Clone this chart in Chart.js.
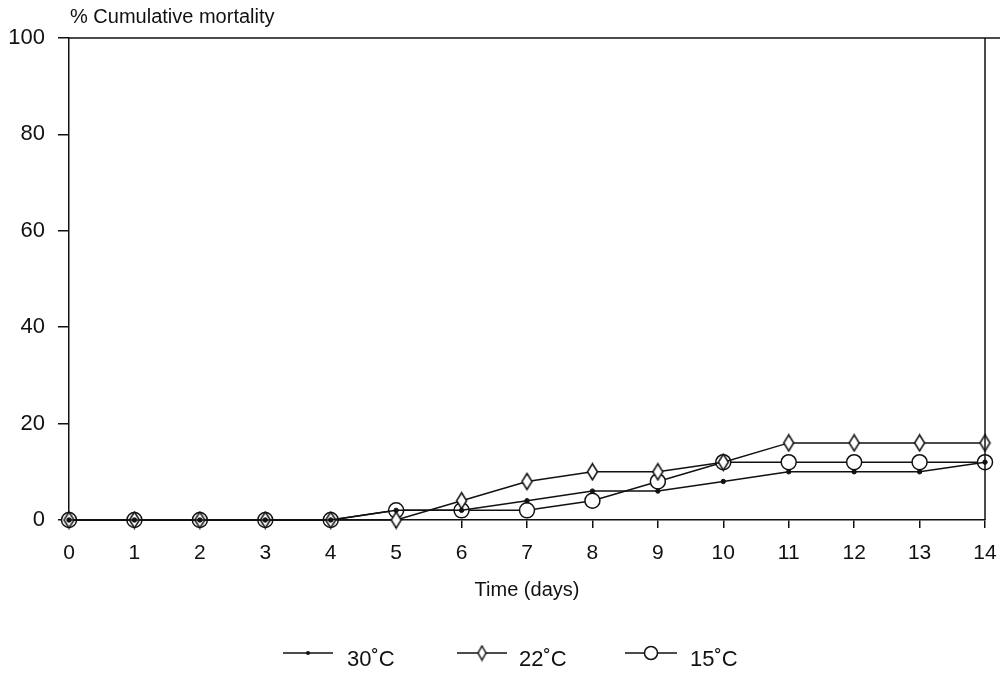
<!DOCTYPE html>
<html>
<head>
<meta charset="utf-8">
<script src="https://cdn.jsdelivr.net/npm/chart.js@4"></script>
<style>
  html, body { margin: 0; padding: 0; background: #fff; }
  #wrap { width: 1005px; height: 674px; }
</style>
</head>
<body>
<div id="wrap"><canvas id="chartCanvas" width="1005" height="674"></canvas></div>
<script>
// --- data ---
const days = [0, 1, 2, 3, 4, 5, 6, 7, 8, 9, 10, 11, 12, 13, 14];
const mort30 = [0, 0, 0, 0, 0, 2, 2, 4, 6, 6, 8, 10, 10, 10, 12];
const mort22 = [0, 0, 0, 0, 0, 0, 4, 8, 10, 10, 12, 16, 16, 16, 16];
const mort15 = [0, 0, 0, 0, 0, 2, 2, 2, 4, 8, 12, 12, 12, 12, 12];
const seriesLabels = ["30˚C", "22˚C", "15˚C"];
const yTicks = [0, 20, 40, 60, 80, 100];

const FONT = "'Liberation Sans', Arial, sans-serif";

// elongated diamond marker
function diamondCanvas(w, h) {
  const c = document.createElement("canvas");
  c.width = w + 3; c.height = h + 3;
  const g = c.getContext("2d");
  const cx = c.width / 2, cy = c.height / 2;
  g.beginPath();
  g.moveTo(cx, cy - h / 2);
  g.lineTo(cx + w / 2, cy);
  g.lineTo(cx, cy + h / 2);
  g.lineTo(cx - w / 2, cy);
  g.closePath();
  g.fillStyle = "#fff";
  g.fill();
  g.lineWidth = 1.5;
  g.strokeStyle = "#111";
  g.stroke();
  return c;
}
const diamondBig = diamondCanvas(10, 16);
const diamondSmall = diamondCanvas(8, 14);

// frame (top + right), axis caption and legend
const framePlugin = {
  id: "frame",
  afterDraw(chart) {
    const { ctx, chartArea: a } = chart;
    ctx.save();
    ctx.strokeStyle = "#111";
    ctx.lineWidth = 1.5;
    ctx.beginPath();
    ctx.moveTo(a.left, a.top);
    ctx.lineTo(1000, a.top);
    ctx.moveTo(a.right, a.top);
    ctx.lineTo(a.right, a.bottom);
    ctx.stroke();

    // y axis caption
    ctx.fillStyle = "#111";
    ctx.font = "20px " + FONT;
    ctx.textBaseline = "alphabetic";
    ctx.fillText("% Cumulative mortality", 70, 23);

    // legend
    const items = [
      { x1: 283, x2: 333, tx: 347 },
      { x1: 457, x2: 507, tx: 519 },
      { x1: 625, x2: 677, tx: 690 }
    ];
    const ly = 653;
    ctx.font = "22px " + FONT;
    items.forEach((it, i) => {
      const mx = (it.x1 + it.x2) / 2;
      ctx.beginPath();
      ctx.moveTo(it.x1, ly);
      ctx.lineTo(it.x2, ly);
      ctx.lineWidth = 1.5;
      ctx.stroke();
      if (i === 0) {
        ctx.beginPath();
        ctx.arc(mx, ly, 2, 0, Math.PI * 2);
        ctx.fill();
      } else if (i === 1) {
        ctx.drawImage(diamondSmall, mx - diamondSmall.width / 2, ly - diamondSmall.height / 2);
      } else {
        ctx.beginPath();
        ctx.arc(mx, ly, 6.5, 0, Math.PI * 2);
        ctx.fillStyle = "#fff";
        ctx.fill();
        ctx.stroke();
        ctx.fillStyle = "#111";
      }
      ctx.fillText(chart.data.datasets[i].label, it.tx, 666);
    });
    ctx.restore();
  }
};

const canvas = document.getElementById("chartCanvas");

new Chart(canvas, {
  type: "line",
  data: {
    labels: days,
    datasets: [
      {
        label: seriesLabels[0],
        data: mort30,
        borderColor: "#111",
        borderWidth: 1.5,
        pointStyle: "circle",
        pointRadius: 2.2,
        pointBackgroundColor: "#111",
        pointBorderColor: "#111",
        pointBorderWidth: 1,
        clip: false
      },
      {
        label: seriesLabels[1],
        data: mort22,
        borderColor: "#111",
        borderWidth: 1.5,
        pointStyle: diamondBig,
        clip: false
      },
      {
        label: seriesLabels[2],
        data: mort15,
        borderColor: "#111",
        borderWidth: 1.5,
        pointStyle: "circle",
        pointRadius: 7.5,
        pointBackgroundColor: "#fff",
        pointBorderColor: "#111",
        pointBorderWidth: 1.5,
        clip: false
      }
    ]
  },
  options: {
    responsive: false,
    animation: false,
    events: [],
    layout: { padding: { top: 38, right: 20, bottom: 70, left: 0 } },
    plugins: {
      legend: { display: false },
      title: { display: false },
      tooltip: { enabled: false }
    },
    scales: {
      x: {
        type: "category",
        offset: false,
        afterFit: s => { s.height = 84; s.paddingRight = 0; s.paddingLeft = 0; },
        grid: {
          drawOnChartArea: false,
          drawTicks: true,
          tickLength: 8,
          color: "#111",
          lineWidth: 1.5
        },
        border: { display: true, color: "#111", width: 1.5 },
        ticks: {
          color: "#111",
          padding: 13,
          maxRotation: 0,
          autoSkip: false,
          font: { family: FONT, size: 21 }
        },
        title: {
          display: true,
          text: "Time (days)",
          color: "#111",
          padding: { top: 0, bottom: 2 },
          font: { family: FONT, size: 20 }
        }
      },
      y: {
        min: 0,
        max: 100,
        afterFit: s => { s.width = 69; },
        afterBuildTicks: s => { s.ticks = yTicks.map(v => ({ value: v })); },
        grid: {
          drawOnChartArea: false,
          drawTicks: true,
          tickLength: 11,
          color: "#111",
          lineWidth: 1.5
        },
        border: { display: true, color: "#111", width: 1.5 },
        ticks: {
          color: "#111",
          padding: 13,
          font: { family: FONT, size: 22 }
        }
      }
    }
  },
  plugins: [framePlugin]
});
</script>
</body>
</html>
